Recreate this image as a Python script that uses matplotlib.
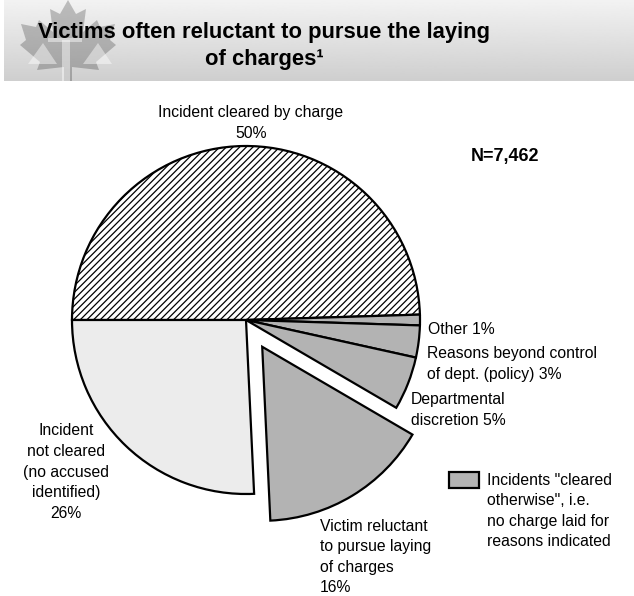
import numpy as np
import matplotlib
matplotlib.use('Agg')
import matplotlib.pyplot as plt
from matplotlib.patches import Polygon, Rectangle

plt.rcParams['font.family'] = ['Liberation Sans', 'DejaVu Sans']
plt.rcParams['hatch.linewidth'] = 0.9

# cleared status of incidents
labels = ['Incident cleared by charge\n50%',
          'Other 1%',
          'Reasons beyond control\nof dept. (policy) 3%',
          'Departmental\ndiscretion 5%',
          'Victim reluctant\nto pursue laying\nof charges\n16%',
          'Incident\nnot cleared\n(no accused\nidentified)\n26%']
shares = [50, 1, 3, 5, 16, 26]
explode = [0, 0, 0, 0, 0.18, 0]
colors = ['white', '#b3b3b3', '#b3b3b3', '#b3b3b3', '#b3b3b3', '#ececec']
total_n = '7,462'
legend_text = 'Incidents "cleared\notherwise", i.e.\nno charge laid for\nreasons indicated'
title = 'Victims often reluctant to pursue the laying\nof charges\u00b9'

W, H = 634, 596
R = 174
fig = plt.figure(figsize=(W / 100, H / 100), dpi=100)
ax = fig.add_axes([0, 0, 1, 1])

def y(py):
    # work in pixel rows measured from the top
    return H - py

# title banner with a soft vertical gradient
grad = np.linspace(0.95, 0.81, 120).reshape(-1, 1)
ax.imshow(grad, cmap='gray', vmin=0, vmax=1, aspect='auto',
          extent=(4, W, y(81), y(0)), zorder=0)

# faint maple leaf emblem behind the title
leaf = [(68, 0), (76, 14), (86, 9), (83, 32), (97, 20), (100, 27), (115, 24),
        (110, 40), (116, 45), (96, 62), (99, 70), (72, 67), (72, 81), (64, 81),
        (64, 67), (37, 70), (40, 62), (20, 45), (26, 40), (21, 24), (36, 27),
        (39, 20), (53, 32), (50, 9), (60, 14)]
ax.add_patch(Polygon([(px, y(py)) for px, py in leaf], closed=True,
                     facecolor='black', alpha=0.22, lw=0, zorder=1))
for tri in ([(43, 43), (28, 64), (57, 64)], [(98, 43), (83, 64), (112, 64)],
            [(62, 40), (70, 40), (70, 81), (62, 81)],
            [(48, 38), (82, 38), (82, 42), (48, 42)]):
    ax.add_patch(Polygon([(px, y(py)) for px, py in tri], closed=True,
                         facecolor='white', alpha=0.45, lw=0, zorder=1))

ax.text(264, y(46), title, ha='center', va='center', fontsize=15.8,
        fontweight='bold', linespacing=1.32, zorder=3)

# pie, clockwise from the left edge; explode offsets are in data units
wedges, _ = ax.pie(shares, explode=[e * R for e in explode], colors=colors,
                   startangle=180, counterclock=False, center=(246, y(320)),
                   radius=R, wedgeprops=dict(edgecolor='black', linewidth=1.6))
wedges[0].set_hatch('/////')

ax.set_xlim(0, W)
ax.set_ylim(0, H)
ax.set_aspect('auto')
ax.axis('off')

fs = 11.3
ls = 1.47
ax.text(251, y(123), labels[0], ha='center', va='center', fontsize=fs, linespacing=ls)
ax.text(428, y(329), labels[1], ha='left', va='center', fontsize=fs, linespacing=ls)
ax.text(427, y(364), labels[2], ha='left', va='center', fontsize=fs, linespacing=ls)
ax.text(411, y(410), labels[3], ha='left', va='center', fontsize=fs, linespacing=ls)
ax.text(320, y(557), labels[4], ha='left', va='center', fontsize=fs, linespacing=ls)
ax.text(66, y(472), labels[5], ha='center', va='center', fontsize=fs, linespacing=ls)

ax.text(505, y(156), 'N=' + total_n, ha='center', va='center', fontsize=13,
        fontweight='bold')

# legend swatch for the "cleared otherwise" group
ax.add_patch(Rectangle((449, y(488)), 30, 16, facecolor='#b3b3b3',
                       edgecolor='black', linewidth=1.6))
ax.text(487, y(511), legend_text, ha='left', va='center', fontsize=fs, linespacing=ls)

fig.savefig('out.png', dpi=100)
